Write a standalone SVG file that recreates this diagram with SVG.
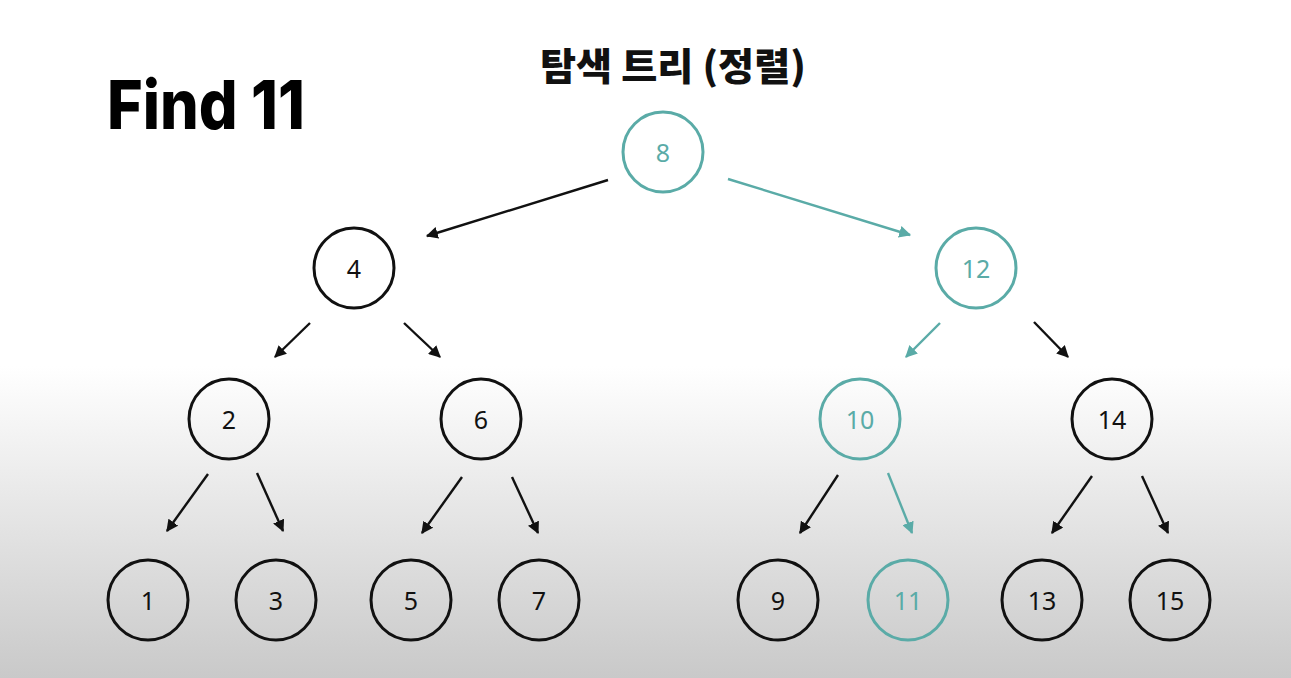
<svg xmlns="http://www.w3.org/2000/svg" width="1291" height="678" viewBox="0 0 1291 678">
<defs>
<linearGradient id="bg" x1="0" y1="0" x2="0" y2="1">
<stop offset="0" stop-color="#ffffff"/>
<stop offset="0.54" stop-color="#ffffff"/>
<stop offset="1" stop-color="#c9c9c9"/>
</linearGradient>
<marker id="ab" viewBox="0 0 10 10" refX="9" refY="5" markerWidth="12" markerHeight="12" markerUnits="userSpaceOnUse" orient="auto">
<path d="M0,0 L10,5 L0,10 z" fill="#111"/>
</marker>
<marker id="at" viewBox="0 0 10 10" refX="9" refY="5" markerWidth="12" markerHeight="12" markerUnits="userSpaceOnUse" orient="auto">
<path d="M0,0 L10,5 L0,10 z" fill="#5aaba7"/>
</marker>
<style>
.n circle{fill:none;stroke:#111;stroke-width:3}
.n text{font-family:"Noto Sans","Liberation Sans",sans-serif;font-size:25px;fill:#111;text-anchor:middle;dominant-baseline:central}
.t circle{stroke:#5aaba7}
.t text{fill:#5aaba7}
.e{stroke:#111;stroke-width:2.4;fill:none;marker-end:url(#ab)}
.et{stroke:#5aaba7;marker-end:url(#at)}
</style>
</defs>
<rect x="0" y="0" width="1291" height="678" fill="url(#bg)"/>
<text x="107" y="129" font-family="Inter,'Noto Sans',sans-serif" font-weight="800" font-size="68" textLength="198" lengthAdjust="spacingAndGlyphs" fill="#000">Find 11</text>
<text x="673" y="80" font-family="'Noto Sans CJK KR','Noto Sans',sans-serif" font-weight="900" font-size="38" text-anchor="middle" textLength="266" lengthAdjust="spacingAndGlyphs" fill="#111">탐색 트리 (정렬)</text>
<g id="connectors">
<line class="e" x1="608" y1="180" x2="427" y2="236"/>
<line class="e et" x1="728" y1="179" x2="910" y2="235"/>
<line class="e" x1="310" y1="323" x2="275" y2="357"/>
<line class="e" x1="404" y1="323" x2="440" y2="357"/>
<line class="e et" x1="940" y1="323" x2="906" y2="357"/>
<line class="e" x1="1034" y1="322" x2="1068" y2="357"/>
<line class="e" x1="208" y1="474" x2="167" y2="531"/>
<line class="e" x1="257" y1="473" x2="283" y2="531"/>
<line class="e" x1="462" y1="477" x2="422" y2="533"/>
<line class="e" x1="512" y1="477" x2="538" y2="533"/>
<line class="e" x1="838" y1="475" x2="800" y2="533"/>
<line class="e et" x1="888" y1="473" x2="912" y2="533"/>
<line class="e" x1="1092" y1="476" x2="1052" y2="533"/>
<line class="e" x1="1142" y1="476" x2="1168" y2="533"/>
</g>
<g id="n8" class="n t"><circle cx="663" cy="152" r="40"/><text x="663" y="152">8</text></g>
<g id="n4" class="n"><circle cx="354" cy="268" r="40"/><text x="354" y="268">4</text></g>
<g id="n12" class="n t"><circle cx="976" cy="268" r="40"/><text x="976" y="268">12</text></g>
<g id="n2" class="n"><circle cx="229" cy="419" r="40"/><text x="229" y="419">2</text></g>
<g id="n6" class="n"><circle cx="481" cy="419" r="40"/><text x="481" y="419">6</text></g>
<g id="n10" class="n t"><circle cx="860" cy="419" r="40"/><text x="860" y="419">10</text></g>
<g id="n14" class="n"><circle cx="1112" cy="419" r="40"/><text x="1112" y="419">14</text></g>
<g id="n1" class="n"><circle cx="148" cy="600" r="40"/><text x="148" y="600">1</text></g>
<g id="n3" class="n"><circle cx="276" cy="600" r="40"/><text x="276" y="600">3</text></g>
<g id="n5" class="n"><circle cx="411" cy="600" r="40"/><text x="411" y="600">5</text></g>
<g id="n7" class="n"><circle cx="539" cy="600" r="40"/><text x="539" y="600">7</text></g>
<g id="n9" class="n"><circle cx="778" cy="600" r="40"/><text x="778" y="600">9</text></g>
<g id="n11" class="n t"><circle cx="908" cy="600" r="40"/><text x="908" y="600">11</text></g>
<g id="n13" class="n"><circle cx="1042" cy="600" r="40"/><text x="1042" y="600">13</text></g>
<g id="n15" class="n"><circle cx="1170" cy="600" r="40"/><text x="1170" y="600">15</text></g>
</svg>
